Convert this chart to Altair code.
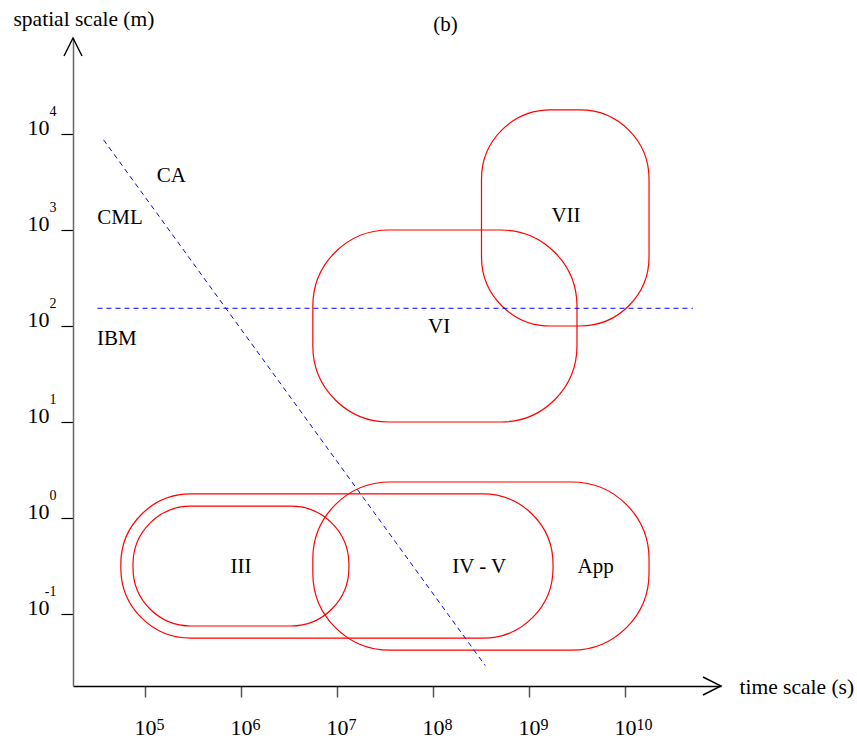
import altair as alt
import pandas as pd

# Model domains in the time / space plane (time in s, space in m)
region_names = ["III", "IV - V", "App", "VI", "VII"]
t_start = [7.5e4, 5.6e4, 5.6e6, 5.6e6, 3.2e8]
t_end = [1.33e7, 1.78e9, 1.78e10, 3.16e9, 1.78e10]
s_low = [0.075, 0.056, 0.042, 10, 100]
s_high = [1.33, 1.78, 2.37, 1000, 17800]

# Text annotations
label_text = ["CA", "CML", "IBM", "VI", "VII", "III", "IV - V", "App"]
label_t = [1.88e5, 5.5e4, 5.1e4, 1.16e8, 2.43e9, 1.0e6, 3.03e8, 4.94e9]
label_s = [3140, 1155, 63.4, 85, 1211, 0.265, 0.265, 0.265]

# Dashed boundaries: CA/CML split (diagonal) and IBM limit (horizontal)
diag_t = [3.7e4, 3.5e8]
diag_s = [8700, 0.029]
ibm_t = [3.2e4, 5.1e10]
ibm_s = [153, 153]

# Tick positions and their exponents
t_ticks = [1e5, 1e6, 1e7, 1e8, 1e9, 1e10]
t_exps = ["5", "6", "7", "8", "9", "10"]
s_ticks = [0.1, 1, 10, 100, 1000, 10000]
s_exps = ["-1", "0", "1", "2", "3", "4"]

panel_tag = "(b)"

# Axis extents (the arrow tips sit at the far ends)
T_MIN, T_MAX = 17783, 1e11
S_MIN, S_MAX = 0.017783, 1e5

FONT = "Liberation Serif"
corner_px = {"III": 58, "IV - V": 70, "App": 77, "VI": 76, "VII": 69}

regions = pd.DataFrame({"name": region_names, "t": t_start, "t2": t_end,
                        "s": s_low, "s2": s_high})
labels = pd.DataFrame({"text": label_text, "t": label_t, "s": label_s})
dashed = pd.DataFrame({
    "t": diag_t + ibm_t,
    "s": diag_s + ibm_s,
    "line": ["diag", "diag", "ibm", "ibm"],
    "order": [0, 1, 0, 1],
})
t_tick_df = pd.DataFrame({"t": t_ticks, "e": t_exps})
s_tick_df = pd.DataFrame({"s": s_ticks, "e": s_exps})

x_scale = alt.Scale(type="log", domain=[T_MIN, T_MAX])
y_scale = alt.Scale(type="log", domain=[S_MIN, S_MAX])

x_axis = alt.Axis(
    values=t_ticks, labelExpr="'10'", labelFont=FONT, labelFontSize=22,
    labelColor="black", labelBaseline="alphabetic", labelAlign="center",
    labelPadding=37, labelOverlap=False, labelFlush=False,
    tickSize=11, tickColor="#555555", tickWidth=1.5,
    domainColor="black", domainWidth=1.3, grid=False,
    title="time scale (s)", titleFont=FONT, titleFontSize=21.5,
    titleFontWeight="normal", titleColor="black", titleAlign="left",
    titleBaseline="alphabetic", titleAngle=0, titleX=666, titleY=7,
)
y_axis = alt.Axis(
    values=s_ticks, labelExpr="'10'", labelFont=FONT, labelFontSize=22,
    labelColor="black", labelBaseline="alphabetic", labelAlign="right",
    labelPadding=12, labelOverlap=False, labelFlush=False,
    tickSize=12, tickColor="black", tickWidth=1.2,
    domainColor="#666666", domainWidth=1.5, grid=False,
    title="spatial scale (m)", titleFont=FONT, titleFontSize=21.5,
    titleFontWeight="normal", titleColor="black", titleAlign="left",
    titleBaseline="alphabetic", titleAngle=0, titleX=-60, titleY=-13,
)


def X(field="t"):
    return alt.X(field, type="quantitative", scale=x_scale, axis=x_axis)


def Y(field="s"):
    return alt.Y(field, type="quantitative", scale=y_scale, axis=y_axis)


layers = []

# Rounded outlines of each model domain
for name in region_names:
    layers.append(
        alt.Chart(regions)
        .transform_filter(alt.datum.name == name)
        .mark_rect(fill="white", fillOpacity=0, stroke="#ff0000",
                   strokeWidth=1.2, cornerRadius=corner_px[name])
        .encode(x=X(), x2="t2", y=Y(), y2="s2")
    )

# Dashed boundaries
layers.append(
    alt.Chart(dashed)
    .mark_line(color="#0000ff", strokeWidth=1, strokeDash=[5, 4])
    .encode(x=X(), y=Y(), detail="line", order="order")
)

# Region / model labels
layers.append(
    alt.Chart(labels)
    .mark_text(font=FONT, fontSize=21, color="black", align="center",
               baseline="alphabetic")
    .encode(x=X(), y=Y(), text="text")
)

# Exponents of the tick labels
layers.append(
    alt.Chart(t_tick_df)
    .mark_text(font=FONT, fontSize=16, color="black", align="left",
               baseline="alphabetic", dx=11.5)
    .encode(x=X(), y=alt.value(692), text="e")
)
layers.append(
    alt.Chart(s_tick_df)
    .mark_text(font=FONT, fontSize=14, color="black", align="right",
               baseline="alphabetic", dy=-18.5)
    .encode(x=alt.value(-16.5), y=Y(), text="e")
)

# Arrow heads at the ends of both axes
layers.append(
    alt.Chart(pd.DataFrame({"t": [T_MAX], "s": [S_MIN]}))
    .mark_point(shape="M -2 -1 L 0 0 L -2 1", size=324, filled=False,
                stroke="black", strokeWidth=1.4, opacity=1)
    .encode(x=X(), y=Y())
)
layers.append(
    alt.Chart(pd.DataFrame({"t": [T_MIN], "s": [S_MAX]}))
    .mark_point(shape="M -1 2 L 0 0 L 1 2", size=324, filled=False,
                stroke="black", strokeWidth=1.4, opacity=1)
    .encode(x=X(), y=Y())
)

# Panel tag above the plot
layers.append(
    alt.Chart(pd.DataFrame({"tag": [panel_tag]}))
    .mark_text(font=FONT, fontSize=21, color="black", align="center",
               baseline="alphabetic")
    .encode(x=alt.value(372.5), y=alt.value(-7), text="tag")
)

chart = (
    alt.layer(*layers)
    .properties(
        width=648, height=648,
        padding={"left": 73, "top": 38, "right": 136, "bottom": 58},
        autosize=alt.AutoSizeParams(type="none"),
        background="white",
    )
    .configure_view(strokeWidth=0)
)

chart.save("out.html", embed_options={"renderer": "svg", "actions": False})
